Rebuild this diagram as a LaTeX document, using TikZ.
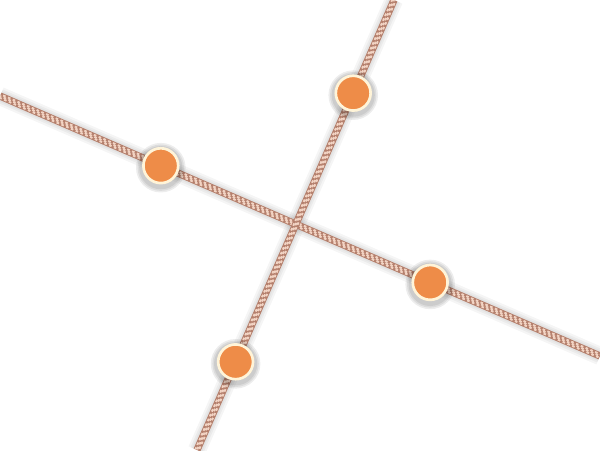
\documentclass[tikz,border=0pt]{standalone}
\usetikzlibrary{calc,positioning}
\definecolor{ropebase}{HTML}{B5806D}
\definecolor{ropelight}{HTML}{F2D4C4}
\definecolor{knotfill}{HTML}{EE8C48}
\definecolor{knotrim}{HTML}{FFF4D8}
\tikzset{
  ropeglow/.style={line width=#1, black, opacity=0.04, line cap=butt},
  ropecore/.style={line width=5.2pt, ropebase},
  ropetwist/.style={line width=1.35pt, ropelight, dash pattern=on 1.9pt off 1.8pt},
  knot/.style={circle, draw=knotrim, fill=knotfill, line width=1.9pt,
    minimum size=0.87cm, inner sep=0pt},
  knotshade/.style={black, opacity=0.07}
}
% one twisted rope between two named points
\newcommand{\drawrope}[2]{%
  \draw[ropecore] (#1) -- (#2);
  \foreach \off/\ph in {-1.25pt/0pt, 0pt/0.9pt, 1.25pt/1.8pt}
    \draw[ropetwist, dash phase=\ph] ($(#1)!\off!90:(#2)$) -- ($(#2)!\off!-90:(#1)$);
}
\begin{document}
\begin{tikzpicture}[x=0.025cm, y=-0.025cm]
  % Fixed bounding box
  \path[use as bounding box] (0,0) rectangle (600,450);

  % ends of the two ropes
  \coordinate (w) at (0,96);
  \coordinate (e) at (600,356);
  \coordinate (n) at (394,0);
  \coordinate (s) at (197,450);

  % soft shadow under the ropes
  \foreach \wd in {13pt,10pt,7.5pt} {
    \draw[ropeglow=\wd] (w) -- (e);
    \draw[ropeglow=\wd] (n) -- (s);
  }
  % Ropes
  \drawrope{w}{e}
  \drawrope{n}{s}

  % Knots on the ropes, with a blurred shadow
  \foreach \name/\a/\b/\t in {kw/w/e/0.268, ke/w/e/0.717, kn/n/s/0.207, ks/n/s/0.804} {
    \foreach \r in {0.62cm,0.58cm,0.54cm}
      \fill[knotshade] ($(\a)!\t!(\b)+(0,2)$) circle (\r);
    \node[knot] (\name) at ($(\a)!\t!(\b)$) {};
  }

\end{tikzpicture}
\end{document}
